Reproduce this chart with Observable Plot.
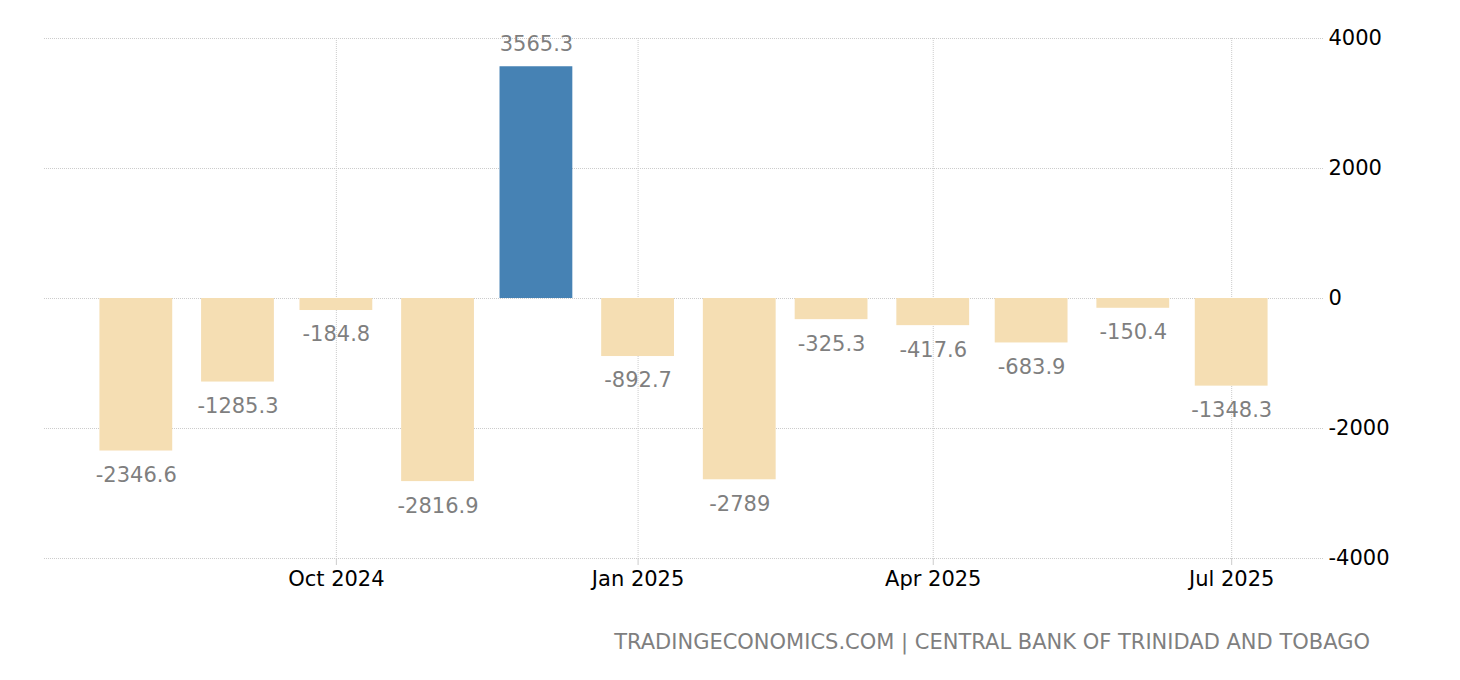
<!DOCTYPE html>
<html>
<head>
<meta charset="utf-8">
<script src="https://cdn.jsdelivr.net/npm/d3@7"></script>
<script src="https://cdn.jsdelivr.net/npm/@observablehq/plot@0.6"></script>
<style>
  body { margin: 0; background: #fff; width: 1460px; height: 680px; position: relative; overflow: hidden; }
  #chart svg { display: block; }
  #caption { position: absolute; top: 630px; right: 90px; font-family: "DejaVu Sans", sans-serif; font-size: 21px; color: #7f7f7f; white-space: nowrap; line-height: 24px; }
</style>
</head>
<body>
<div id="chart"></div>
<div id="caption">TRADINGECONOMICS.COM | CENTRAL BANK OF TRINIDAD AND TOBAGO</div>
<script>
const months = ["2024-08", "2024-09", "2024-10", "2024-11", "2024-12", "2025-01", "2025-02", "2025-03", "2025-04", "2025-05", "2025-06", "2025-07"];
const values = [-2346.6, -1285.3, -184.8, -2816.9, 3565.3, -892.7, -2789, -325.3, -417.6, -683.9, -150.4, -1348.3];
const yTicks = [-4000, -2000, 0, 2000, 4000];
const xTicks = ["2024-10", "2025-01", "2025-04", "2025-07"];
const xTickLabels = ["Oct 2024", "Jan 2025", "Apr 2025", "Jul 2025"];

const parse = d3.utcParse("%Y-%m");
const data = months.map((m, i) => ({ date: parse(m), value: values[i] }));
const xTickDates = xTicks.map(parse);
const halfBar = 11.1 * 864e5;

const grid = "#cccccc";
const chart = Plot.plot({
  width: 1460,
  height: 600,
  marginLeft: 44,
  marginRight: 137,
  marginTop: 38,
  marginBottom: 42,
  style: { fontFamily: "DejaVu Sans, sans-serif", fontSize: "21px", color: "#000", background: "#fff" },
  x: { type: "utc", domain: [new Date(Date.UTC(2024, 6, 4)), new Date(Date.UTC(2025, 6, 29))], label: null },
  y: { domain: [-4000, 4000], label: null },
  marks: [
    Plot.ruleY(yTicks, { stroke: grid, strokeDasharray: "1,1" }),
    Plot.ruleX(xTickDates, { stroke: grid, strokeDasharray: "1,1" }),
    Plot.rectY(data, {
      x1: d => new Date(+d.date - halfBar),
      x2: d => new Date(+d.date + halfBar),
      y1: 0,
      y2: "value",
      fill: d => d.value >= 0 ? "#4682b4" : "#f5deb3"
    }),
    Plot.text(data.filter(d => d.value >= 0), {
      x: "date", y: "value", text: d => String(d.value),
      lineAnchor: "bottom", dy: -16, fill: "#7f7f7f", fontSize: 21
    }),
    Plot.text(data.filter(d => d.value < 0), {
      x: "date", y: "value", text: d => String(d.value),
      lineAnchor: "top", dy: 16, fill: "#7f7f7f", fontSize: 21
    }),
    Plot.axisY({ anchor: "right", ticks: yTicks, tickSize: 0, tickPadding: 5, tickFormat: d => String(d), fill: "#000", label: null }),
    Plot.axisX({ ticks: xTickDates, tickSize: 7, tickPadding: 6, stroke: grid, tickFormat: (d, i) => xTickLabels[i], fill: "#000", label: null })
  ]
});
document.getElementById("chart").append(chart);
</script>
</body>
</html>
